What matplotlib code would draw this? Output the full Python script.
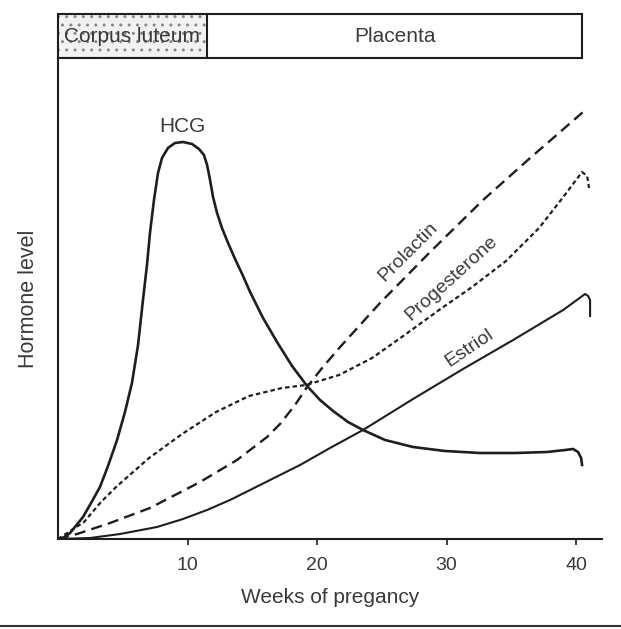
import matplotlib
matplotlib.use("Agg")
import matplotlib.pyplot as plt
from matplotlib.patches import Rectangle
from matplotlib.lines import Line2D

plt.rcParams['font.family'] = ['Liberation Sans', 'DejaVu Sans']
plt.rcParams['lines.scale_dashes'] = False

INK = '#1e1e1e'
TEXT = '#3a3a3a'

# hormone curves, weeks vs. relative level (HCG peak ~ 100)
hcg_weeks = [0, 0.39, 0.93, 1.93, 2.55, 3.24, 3.86, 4.56, 5.17, 5.71, 6.18,
             6.56, 6.87, 7.10, 7.41, 7.72, 8.03, 8.49, 9.03, 9.65, 10.35,
             10.89, 11.27, 11.51, 11.74, 11.97, 12.28, 12.66, 13.13, 13.67,
             14.29, 14.83, 15.83, 16.91, 18.07, 19.23, 20.23, 21.24, 22.39,
             23.55, 25.25, 27.41, 29.88, 32.59, 35.29, 37.76, 39.15, 39.77,
             40.15, 40.39, 40.46]
hcg_level = [0, 0.25, 1.5, 5.5, 9, 13, 18.25, 24.75, 31.75, 39, 48.5,
             59.75, 68.5, 76.5, 84.75, 91.5, 95.25, 97.75, 99, 99.25, 98.75,
             97.5, 96, 93.5, 89.75, 85.5, 81.5, 77.75, 74, 70,
             65.75, 61.75, 55.25, 49.25, 43.25, 38.25, 34.75, 32, 29.25,
             27.25, 24.75, 23, 22, 21.5, 21.5, 21.75, 22.25, 22.5,
             21.75, 20.25, 18.5]

prolactin_weeks = [0, 1.47, 4.02, 7.1, 10.97, 13.82, 14.83, 16.14, 17.14, 18.3,
                   19.23, 20.39, 21.78, 24.86, 28.73, 32.82, 36.45, 40.54]
prolactin_level = [0, 1.25, 4, 7.75, 14.25, 19.75, 22.25, 25.5, 28.75, 33.5,
                   38, 42.75, 48, 59, 71.75, 84.75, 95.25, 106.75]

progesterone_weeks = [0, 2.01, 3.32, 4.48, 7.03, 9.58, 12.2, 14.75, 17.3, 19.15,
                      21.7, 24.25, 26.87, 29.42, 31.97, 34.59, 37.14, 39.07,
                      40.46, 40.85, 41.0]
progesterone_level = [0, 4.25, 9.25, 13, 20.25, 26.25, 31.75, 35.75, 37.75, 38.5,
                      41, 45.25, 51.25, 57.25, 63, 69.5, 77.75, 85.75,
                      91.75, 90.75, 87.75]

estriol_weeks = [0, 2.47, 4.79, 7.64, 9.65, 11.51, 13.28, 14.83, 17.14, 18.69,
                 21.0, 23.55, 27.41, 31.27, 35.14, 39.0, 40.69, 40.93, 41.08,
                 41.08]
estriol_level = [0, 0.25, 1.25, 3, 5, 7.25, 9.75, 12.25, 16, 18.5,
                 22.75, 27.25, 35, 42.5, 49.75, 57.25, 61.25, 60.75, 59.75,
                 55.75]

xticks = [10, 20, 30, 40]

fig = plt.figure(figsize=(6.21, 6.29), dpi=100)
ax = fig.add_axes([58 / 621, 90 / 629, 544 / 621, 481 / 629])

ax.plot(hcg_weeks, hcg_level, color=INK, lw=1.9, solid_joinstyle='round')
ax.plot(estriol_weeks, estriol_level, color=INK, lw=1.5, solid_joinstyle='round')
ax.plot(prolactin_weeks, prolactin_level, color=INK, lw=1.7,
        linestyle=(0, (8, 4.5)))
ax.plot(progesterone_weeks, progesterone_level, color=INK, lw=1.6,
        linestyle=(0, (3.2, 2.2)))

ax.text(9.58, 103, 'HCG', color=TEXT, fontsize=15, ha='center', va='center')
ax.text(27.03, 71.75, 'Prolactin', color=TEXT, fontsize=14, rotation=45,
        ha='center', va='center', rotation_mode='anchor')
ax.text(30.35, 65.25, 'Progesterone', color=TEXT, fontsize=14, rotation=42,
        ha='center', va='center', rotation_mode='anchor')
ax.text(31.8, 47.75, 'Estriol', color=TEXT, fontsize=14, rotation=34,
        ha='center', va='center', rotation_mode='anchor')

ax.set_xlim(0, 42.0)
ax.set_ylim(0, 120.25)
ax.set_xticks(xticks)
ax.set_yticks([])
ax.tick_params(axis='x', direction='out', length=4, width=1.2, color=INK,
               labelsize=14, labelcolor=TEXT, pad=9)
for side in ('top', 'right'):
    ax.spines[side].set_visible(False)
for side in ('left', 'bottom'):
    ax.spines[side].set_color(INK)
    ax.spines[side].set_linewidth(1.5)

ax.set_xlabel('Weeks of pregancy', fontsize=15, color=TEXT, labelpad=10)
ax.set_ylabel('Hormone level', fontsize=15.5, color=TEXT, labelpad=14)

# source of the hormones across the weeks
box = fig.add_axes([58 / 621, (629 - 58) / 629, 524 / 621, 44 / 629])
box.set_xlim(0, 1)
box.set_ylim(0, 1)
box.set_xticks([])
box.set_yticks([])
for sp in box.spines.values():
    sp.set_color(INK)
    sp.set_linewidth(1.5)
split = (207 - 58) / 524
box.add_patch(Rectangle((0, 0), split, 1, facecolor='#f2f2f2',
                        edgecolor='#8a8a8a', hatch='..', lw=0))
box.axvline(split, color=INK, lw=1.5)
box.text(split / 2, 0.5, 'Corpus luteum', fontsize=15, color=TEXT,
         ha='center', va='center')
box.text((1 + split) / 2, 0.5, 'Placenta', fontsize=15, color=TEXT,
         ha='center', va='center')

fig.add_artist(Line2D([0, 1], [0.004, 0.004], color='#333333', lw=1.5))

fig.savefig('out.png', dpi=100)
